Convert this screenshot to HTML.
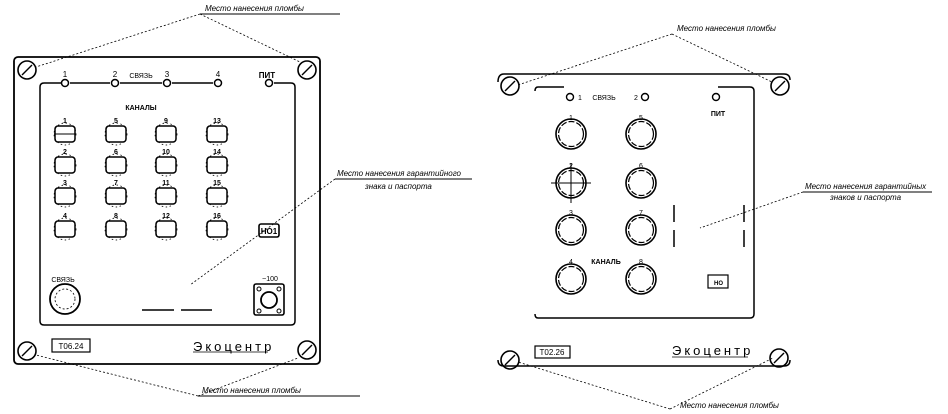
<!DOCTYPE html>
<html><head><meta charset="utf-8"><style>
html,body{margin:0;padding:0;background:#fff;}
svg{display:block;}
text{font-family:"Liberation Sans",sans-serif;fill:#000;}
</style></head><body>
<svg width="948" height="414" viewBox="0 0 948 414" xmlns="http://www.w3.org/2000/svg">
<defs>
<g id="scr"><circle r="9" fill="none" stroke="#000" stroke-width="1.6"/><line x1="-5" y1="5" x2="5" y2="-5" stroke="#000" stroke-width="1.4"/></g>
<g id="btn"><rect x="-10" y="-8" width="20" height="16" rx="3" fill="none" stroke="#000" stroke-width="1.5"/><circle r="11" fill="none" stroke="#000" stroke-width="0.8" stroke-dasharray="1.5 2.5"/></g>
<g id="cb"><circle r="15" fill="none" stroke="#000" stroke-width="1.6"/><circle r="12.5" fill="none" stroke="#000" stroke-width="1.2" stroke-dasharray="6 2"/></g>
</defs>
<g fill="none" stroke="#000" stroke-width="0.8" stroke-dasharray="2 2">
<!-- left leaders -->
<line x1="200" y1="14" x2="36" y2="67"/><line x1="200" y1="14" x2="300" y2="62"/>
<line x1="335" y1="179" x2="190" y2="285"/>
<line x1="198" y1="396" x2="36" y2="355"/><line x1="198" y1="396" x2="298" y2="358"/>
<!-- right leaders -->
<line x1="672" y1="34" x2="518" y2="85"/><line x1="672" y1="34" x2="772" y2="82"/>
<line x1="803" y1="192" x2="700" y2="228"/>
<line x1="670" y1="409" x2="518" y2="362"/><line x1="670" y1="409" x2="773" y2="358"/>
</g>
<g stroke="#000" stroke-width="1">
<line x1="200" y1="14" x2="340" y2="14"/>
<line x1="335" y1="179" x2="472" y2="179"/>
<line x1="198" y1="396" x2="360" y2="396"/>
<line x1="803" y1="192" x2="932" y2="192"/>
</g>
<g font-size="8" font-style="italic">
<text x="205" y="11">Место нанесения пломбы</text>
<text x="337" y="176">Место нанесения гарантийного</text>
<text x="365" y="189">знака и паспорта</text>
<text x="202" y="393">Место нанесения пломбы</text>
<text x="677" y="31">Место нанесения пломбы</text>
<text x="805" y="189">Место нанесения гарантийных</text>
<text x="830" y="200">знаков и паспорта</text>
<text x="680" y="408">Место нанесения пломбы</text>
</g>
<!-- LEFT PANEL -->
<rect x="14" y="57" width="306" height="307" rx="4" fill="none" stroke="#000" stroke-width="1.8"/>
<path d="M65 83 H44 Q40 83 40 87 V321 Q40 325 44 325 H291 Q295 325 295 321 V87 Q295 83 291 83 H274" fill="none" stroke="#000" stroke-width="1.5"/>
<g stroke="#000" stroke-width="1.5"><line x1="70" y1="83" x2="110" y2="83"/><line x1="120" y1="83" x2="162" y2="83"/><line x1="172" y1="83" x2="213" y2="83"/></g>
<g fill="#fff" stroke="#000" stroke-width="1.5">
<circle cx="65" cy="83" r="3.5"/><circle cx="115" cy="83" r="3.5"/><circle cx="167" cy="83" r="3.5"/><circle cx="218" cy="83" r="3.5"/><circle cx="269" cy="83" r="3.5"/></g>
<g font-size="8" text-anchor="middle">
<text x="65" y="77">1</text><text x="115" y="77">2</text><text x="167" y="77">3</text><text x="218" y="77">4</text>
<text x="141" y="78" font-size="7">СВЯЗЬ</text><text x="267" y="78" font-weight="bold">ПИТ</text>
<text x="141" y="110" font-size="7" font-weight="bold">КАНАЛЫ</text>
</g>
<g>
<use href="#scr" x="27" y="70"/><use href="#scr" x="307" y="70"/><use href="#scr" x="27" y="351"/><use href="#scr" x="307" y="350"/>
</g>
<g font-size="7" text-anchor="middle" font-weight="bold">
<use href="#btn" x="65" y="134"/><use href="#btn" x="116" y="134"/><use href="#btn" x="166" y="134"/><use href="#btn" x="217" y="134"/>
<use href="#btn" x="65" y="165"/><use href="#btn" x="116" y="165"/><use href="#btn" x="166" y="165"/><use href="#btn" x="217" y="165"/>
<use href="#btn" x="65" y="196"/><use href="#btn" x="116" y="196"/><use href="#btn" x="166" y="196"/><use href="#btn" x="217" y="196"/>
<use href="#btn" x="65" y="229"/><use href="#btn" x="116" y="229"/><use href="#btn" x="166" y="229"/><use href="#btn" x="217" y="229"/>
<text x="65" y="123">1</text><text x="116" y="123">5</text><text x="166" y="123">9</text><text x="217" y="123">13</text>
<text x="65" y="154">2</text><text x="116" y="154">6</text><text x="166" y="154">10</text><text x="217" y="154">14</text>
<text x="65" y="185">3</text><text x="116" y="185">7</text><text x="166" y="185">11</text><text x="217" y="185">15</text>
<text x="65" y="218">4</text><text x="116" y="218">8</text><text x="166" y="218">12</text><text x="217" y="218">16</text>
</g>
<line x1="54" y1="134" x2="76" y2="134" stroke="#000" stroke-width="1"/>
<rect x="259" y="224" width="20" height="13" rx="2" fill="none" stroke="#000" stroke-width="1.6"/>
<text x="269" y="234" font-size="8" font-weight="bold" text-anchor="middle">НО1</text>
<text x="63" y="282" font-size="7" text-anchor="middle">СВЯЗЬ</text>
<circle cx="65" cy="299" r="15" fill="none" stroke="#000" stroke-width="1.8"/>
<circle cx="65" cy="299" r="10" fill="none" stroke="#000" stroke-width="0.8" stroke-dasharray="2 2"/>
<text x="270" y="281" font-size="7" text-anchor="middle">~100</text>
<rect x="254" y="284" width="30" height="31" rx="2" fill="none" stroke="#000" stroke-width="1.6"/>
<circle cx="269" cy="300" r="8" fill="none" stroke="#000" stroke-width="1.8"/>
<g fill="none" stroke="#000" stroke-width="1"><circle cx="259" cy="289" r="2"/><circle cx="279" cy="289" r="2"/><circle cx="259" cy="311" r="2"/><circle cx="279" cy="311" r="2"/></g>
<g stroke="#000" stroke-width="1.5"><line x1="142" y1="310" x2="174" y2="310"/><line x1="181" y1="310" x2="212" y2="310"/></g>
<rect x="52" y="339" width="38" height="13" fill="none" stroke="#000" stroke-width="1.2"/>
<text x="71" y="349" font-size="8" text-anchor="middle">Т06.24</text>
<text x="193" y="351" font-size="13" letter-spacing="3">Экоцентр</text>
<line x1="193" y1="352" x2="268" y2="352" stroke="#000" stroke-width="0.8"/>
<!-- RIGHT PANEL -->
<path d="M498 82 Q498 74 504 74 H784 Q790 74 790 80" fill="none" stroke="#000" stroke-width="1.5"/>
<path d="M498 360 Q498 366 504 366 H784 Q790 366 790 360" fill="none" stroke="#000" stroke-width="1.5"/>
<path d="M564 87 H538 Q535 87 535 91" fill="none" stroke="#000" stroke-width="1.5"/>
<path d="M718 87 H750 Q754 87 754 91 V314 Q754 318 750 318 H538 Q535 318 535 314" fill="none" stroke="#000" stroke-width="1.5"/>
<use href="#scr" x="510" y="86"/><use href="#scr" x="780" y="86"/><use href="#scr" x="510" y="360"/><use href="#scr" x="779" y="358"/>
<g fill="none" stroke="#000" stroke-width="1.4"><circle cx="570" cy="97" r="3.5"/><circle cx="645" cy="97" r="3.5"/><circle cx="716" cy="97" r="3.5"/></g>
<g font-size="7" text-anchor="middle">
<text x="580" y="100">1</text><text x="604" y="100">СВЯЗЬ</text><text x="636" y="100">2</text>
<text x="718" y="116" font-weight="bold">ПИТ</text>
<text x="571" y="120">1</text><text x="641" y="120">5</text>
<text x="571" y="168">2</text><text x="641" y="168">6</text>
<text x="571" y="215">3</text><text x="641" y="215">7</text>
<text x="571" y="264">4</text><text x="641" y="264">8</text>
<text x="606" y="264" font-weight="bold">КАНАЛЬ</text>
</g>
<use href="#cb" x="571" y="134"/><use href="#cb" x="641" y="134"/>
<use href="#cb" x="571" y="183"/><use href="#cb" x="641" y="183"/>
<use href="#cb" x="571" y="230"/><use href="#cb" x="641" y="230"/>
<use href="#cb" x="571" y="279"/><use href="#cb" x="641" y="279"/>
<g stroke="#000" stroke-width="1"><line x1="551" y1="183" x2="591" y2="183"/><line x1="571" y1="163" x2="571" y2="203"/></g>
<g stroke="#000" stroke-width="1.5"><line x1="674" y1="205" x2="674" y2="222"/><line x1="674" y1="230" x2="674" y2="247"/><line x1="744" y1="205" x2="744" y2="222"/><line x1="744" y1="230" x2="744" y2="247"/></g>
<rect x="708" y="275" width="20" height="13" fill="none" stroke="#000" stroke-width="1.2"/>
<text x="714" y="285" font-size="6" font-weight="bold">НО</text>
<rect x="535" y="346" width="35" height="12" fill="none" stroke="#000" stroke-width="1.2"/>
<text x="552" y="355" font-size="8" text-anchor="middle">Т02.26</text>
<text x="672" y="355" font-size="13" letter-spacing="3">Экоцентр</text>
<line x1="672" y1="357" x2="748" y2="357" stroke="#000" stroke-width="0.8"/>
</svg>
</body></html>
